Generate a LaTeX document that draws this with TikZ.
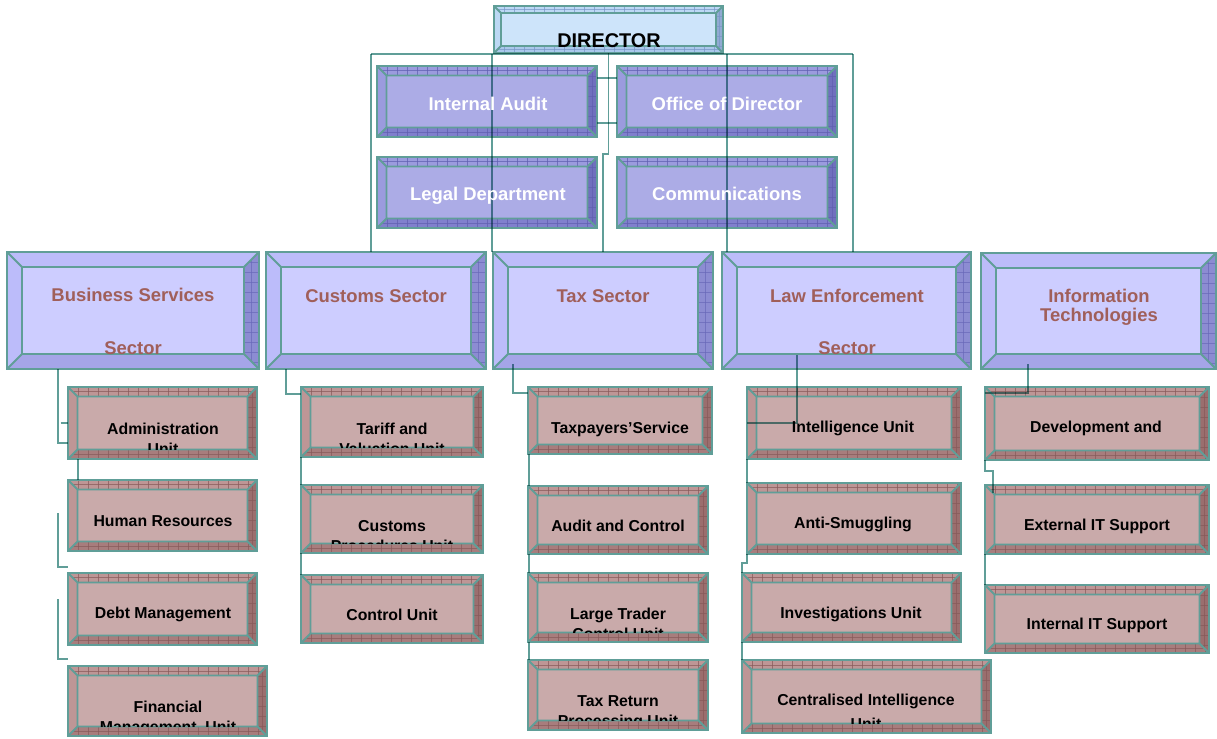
\documentclass[tikz,border=0pt]{standalone}
\usepackage{fontspec}
\setmainfont{Liberation Sans}
\usetikzlibrary{calc,fit}
\definecolor{edge}{RGB}{96,158,152}
\definecolor{ddF}{RGB}{205,228,250}\definecolor{ddT}{RGB}{188,216,244}\definecolor{ddB}{RGB}{170,200,235}\definecolor{ddR}{RGB}{145,170,210}\definecolor{ddK}{RGB}{120,150,200}
\definecolor{ppF}{RGB}{172,172,230}\definecolor{ppT}{RGB}{155,155,222}\definecolor{ppB}{RGB}{128,128,205}\definecolor{ppR}{RGB}{112,112,190}\definecolor{ppK}{RGB}{95,95,175}
\definecolor{ssF}{RGB}{205,205,255}\definecolor{ssT}{RGB}{188,188,250}\definecolor{ssB}{RGB}{165,165,232}\definecolor{ssR}{RGB}{140,140,210}\definecolor{ssK}{RGB}{105,105,185}
\definecolor{uuF}{RGB}{201,170,170}\definecolor{uuT}{RGB}{190,150,150}\definecolor{uuB}{RGB}{168,125,125}\definecolor{uuR}{RGB}{155,110,110}\definecolor{uuK}{RGB}{135,90,90}
\definecolor{secttext}{RGB}{160,95,90}
\tikzset{
  boxedge/.style={draw=edge,line width=1.1pt,line join=miter},
  tickline/.style={line width=0.3pt,draw opacity=0.7},
  conn/.style={draw=edge,line width=1.1pt,blend mode=multiply},
  utext/.style={anchor=base,inner sep=0,font=\fontsize{9}{10}\selectfont\bfseries,text=black},
  stext/.style={anchor=base,inner sep=0,font=\fontsize{10.5}{12}\selectfont\bfseries,text=secttext},
  ptext/.style={anchor=base,inner sep=0,font=\fontsize{10.5}{12}\selectfont\bfseries,text=white},
  dtext/.style={anchor=base,inner sep=0,font=\fontsize{11.3}{13}\selectfont\bfseries,text=black},
}
% #1 name, #2 x1, #3 y1, #4 x2, #5 y2, #6 palette, #7 bevel, #8 ticks on top/bottom
\newcommand\bbox[8]{%
  \fill[#6T] (#2,#3) rectangle (#4,#5);
  \fill[#6B] (#2,#5) -- (#4,#5) -- ({#4-#7},{#5-#7}) -- ({#2+#7},{#5-#7}) -- cycle;
  \fill[#6R] (#4,#3) -- (#4,#5) -- ({#4-#7},{#5-#7}) -- ({#4-#7},{#3+#7}) -- cycle;
  \begin{scope}
    \clip (#4,#3) -- (#4,#5) -- ({#4-#7},{#5-#7}) -- ({#4-#7},{#3+#7}) -- cycle;
    \pgfmathsetmacro\bbA{#3+10}\pgfmathsetmacro\bbB{#3+20}
    \foreach \tk in {\bbA,\bbB,...,#5} \draw[tickline,#6K] (#2,\tk) -- (#4,\tk);
    \draw[tickline,#6K] ({#4-#7/2},#3) -- ({#4-#7/2},#5);
  \end{scope}
  \ifnum#8=1
  \begin{scope}
    \clip (#2,#3) -- (#4,#3) -- ({#4-#7},{#3+#7}) -- ({#2+#7},{#3+#7}) -- cycle
          (#2,#5) -- (#4,#5) -- ({#4-#7},{#5-#7}) -- ({#2+#7},{#5-#7}) -- cycle;
    \pgfmathsetmacro\bbA{#2+10}\pgfmathsetmacro\bbB{#2+20}
    \foreach \tk in {\bbA,\bbB,...,#4} \draw[tickline,#6K] (\tk,#3) -- (\tk,#5);
    \draw[tickline,#6K] (#2,{#3+#7/2}) -- (#4,{#3+#7/2}) (#2,{#5-#7/2}) -- (#4,{#5-#7/2});
  \end{scope}
  \fi
  \fill[#6F] ({#2+#7},{#3+#7}) rectangle ({#4-#7},{#5-#7});
  \draw[boxedge] (#2,#3) rectangle (#4,#5) ({#2+#7},{#3+#7}) rectangle ({#4-#7},{#5-#7})
    (#2,#3) -- ({#2+#7},{#3+#7}) (#4,#3) -- ({#4-#7},{#3+#7})
    (#2,#5) -- ({#2+#7},{#5-#7}) (#4,#5) -- ({#4-#7},{#5-#7});
  \path (#2,#3) coordinate (#1-nw) (#4,#5) coordinate (#1-se);
  \node[fit=(#1-nw)(#1-se),inner sep=0] (#1) {};
}
% clipped two-line unit label: [#1 gap], #2 box, #3 x, #4 baseline, #5 line 1, #6 line 2
\newcommand\ulabel[6][20]{%
  \begin{scope}
    \clip ($(#2.north west)+(9.5,9.5)$) rectangle ($(#2.south east)+(-9.5,-9.5)$);
    \node[utext] at (#3,#4) {#5};
    \node[utext] at (#3,{#4+#1}) {#6};
  \end{scope}
}
\begin{document}
\begin{tikzpicture}[x=0.02cm,y=-0.02cm]
\useasboundingbox (0,0) rectangle (1217,738);
\fill[white] (0,0) rectangle (1217,738);
% ---------- boxes ----------
\bbox{dir}{494}{6}{723}{53}{dd}{7}{1}
\bbox{ia}{377}{66}{597}{137}{pp}{9.5}{1}
\bbox{od}{617}{66}{837}{137}{pp}{9.5}{1}
\bbox{ld}{377}{157}{597}{228}{pp}{9.5}{1}
\bbox{com}{617}{157}{837}{228}{pp}{9.5}{1}
\bbox{bs}{7}{252}{259}{369}{ss}{15}{0}
\bbox{cus}{266}{252}{486}{369}{ss}{15}{0}
\bbox{tax}{493}{252}{713}{369}{ss}{15}{0}
\bbox{law}{722}{252}{971}{369}{ss}{15}{0}
\bbox{it}{981}{253}{1216}{369}{ss}{15}{0}
\bbox{adm}{68}{387}{257}{459}{uu}{9.5}{1}
\bbox{hr}{68}{480}{257}{551}{uu}{9.5}{1}
\bbox{debt}{68}{573}{257}{645}{uu}{9.5}{1}
\bbox{fin}{68}{666}{267}{736}{uu}{9.5}{1}
\bbox{tar}{301}{387}{483}{457}{uu}{9.5}{1}
\bbox{cpu}{301}{485}{483}{553}{uu}{9.5}{1}
\bbox{ctl}{301}{575}{483}{643}{uu}{9.5}{1}
\bbox{tps}{528}{387}{712}{454}{uu}{9.5}{1}
\bbox{aac}{528}{486}{708}{554}{uu}{9.5}{1}
\bbox{ltc}{528}{573}{708}{642}{uu}{9.5}{1}
\bbox{trp}{528}{660}{708}{730}{uu}{9.5}{1}
\bbox{intel}{747}{387}{961}{459}{uu}{9.5}{1}
\bbox{anti}{747}{483}{961}{554}{uu}{9.5}{1}
\bbox{inv}{742}{573}{961}{642}{uu}{9.5}{1}
\bbox{cen}{742}{660}{991}{733}{uu}{9.5}{1}
\bbox{dev}{985}{387}{1209}{460}{uu}{9.5}{1}
\bbox{ext}{985}{485}{1209}{554}{uu}{9.5}{1}
\bbox{iit}{985}{585}{1209}{653}{uu}{9.5}{1}
% ---------- connectors ----------
\coordinate (busL) at (371,54);
\coordinate (busR) at (853,54);
\draw[conn] (busL) -- (busR);
\draw[conn] (busL) -- (busL |- cus.north);
\draw[conn] (busR) -- (busR |- law.north);
\coordinate (v1) at ($(tax.north west)+(-1,0)$);
\draw[conn] (v1) -- (v1 |- busL);
\coordinate (v2) at ($(law.north west)+(5,0)$);
\draw[conn] (v2) -- (v2 |- busL);
\draw[conn] (dir.south) -- ++(0,101) -| (tax.north);
\draw[conn] ($(ia.north east)+(0,12)$) -- ($(od.north west)+(0,12)$);
\draw[conn] ($(ia.north east)+(0,57)$) -- ($(od.north west)+(0,57)$);
% business services
\draw[conn] ($(bs.south west)+(51,0)$) |- ($(adm.north west)+(0,56)$);
\draw[conn] ($(adm.north west)+(-7,36)$) -- ($(adm.north west)+(0,36)$);
\draw[conn] ($(adm.south west)+(10,0)$) -- ($(hr.north west)+(10,0)$);
\draw[conn] ($(hr.south west)+(-10,-38)$) -- ($(debt.north west)+(-10,-6)$) -- ($(debt.north west)+(0,-6)$);
\draw[conn] ($(debt.south west)+(-10,-46)$) -- ($(fin.north west)+(-10,-7)$) -- ($(fin.north west)+(0,-7)$);
% customs
\draw[conn] ($(cus.south west)+(20,0)$) |- ($(tar.north west)+(0,7)$);
\draw[conn] (tar.south west) -- (cpu.north west);
\draw[conn] (cpu.south west) -- (ctl.north west);
% tax
\draw[conn] ($(tax.south west)+(20,-5)$) |- ($(tps.north west)+(0,6)$);
\draw[conn] ($(tps.south west)+(1,0)$) -- ($(aac.north west)+(1,0)$);
\draw[conn] ($(aac.south west)+(1,0)$) -- ($(ltc.north west)+(1,0)$);
\draw[conn] ($(ltc.south west)+(1,0)$) -- ($(trp.north west)+(1,0)$);
% law enforcement
\draw[conn] ($(law.south west)+(75,-14)$) |- ($(intel.north west)+(0,36)$);
\draw[conn] (intel.south west) -- (anti.north west);
\draw[conn] (anti.south west) -- ++(0,9) -| (inv.north west);
\draw[conn] (inv.south west) -- (cen.north west);
% information technologies
\draw[conn] ($(it.south west)+(47,-5)$) |- ($(dev.north west)+(0,6)$);
\draw[conn] (dev.south west) -- ++(0,11) -- ++(8,0) -- ($(ext.north west)+(8,8)$);
\draw[conn] (ext.south west) -- (iit.north west);
% ---------- labels ----------
\node[dtext] at (609,47.5) {DIRECTOR};
\node[ptext] at (488,110.5) {Internal Audit};
\node[ptext] at (727,110.5) {Office of Director};
\node[ptext] at (488,200) {Legal Department};
\node[ptext] at (727,200) {Communications};
\node[stext] at (133,301.5) {Business Services};
\node[stext] at (133,354) {Sector};
\node[stext] at (376,302) {Customs Sector};
\node[stext] at (603,302) {Tax Sector};
\node[stext] at (847,302) {Law Enforcement};
\node[stext] at (847,354) {Sector};
\node[stext] at (1099,302.5) {Information};
\node[stext] at (1099,321.5) {Technologies};
\ulabel{adm}{163}{434}{Administration}{Unit}
\node[utext] at (163,526.5) {Human Resources};
\node[utext] at (163,618) {Debt Management};
\ulabel{fin}{168}{712}{Financial}{Management\ \ Unit}
\ulabel{tar}{392}{434}{Tariff and}{Valuation Unit}
\ulabel{cpu}{392}{531.5}{Customs}{Procedures Unit}
\node[utext] at (392,620.5) {Control Unit};
\node[utext] at (620,433) {Taxpayers’Service};
\node[utext] at (618,531.5) {Audit and Control};
\ulabel{ltc}{618}{619}{Large Trader}{Control Unit}
\ulabel{trp}{618}{706.5}{Tax Return}{Processing Unit}
\node[utext] at (853,432.5) {Intelligence Unit};
\node[utext] at (853,528.5) {Anti-Smuggling};
\node[utext] at (851,618.5) {Investigations Unit};
\ulabel[24]{cen}{866}{705}{Centralised Intelligence}{Unit}
\node[utext] at (1096,432.5) {Development and};
\node[utext] at (1097,530) {External IT Support};
\node[utext] at (1097,629.5) {Internal IT Support};
\end{tikzpicture}
\end{document}
